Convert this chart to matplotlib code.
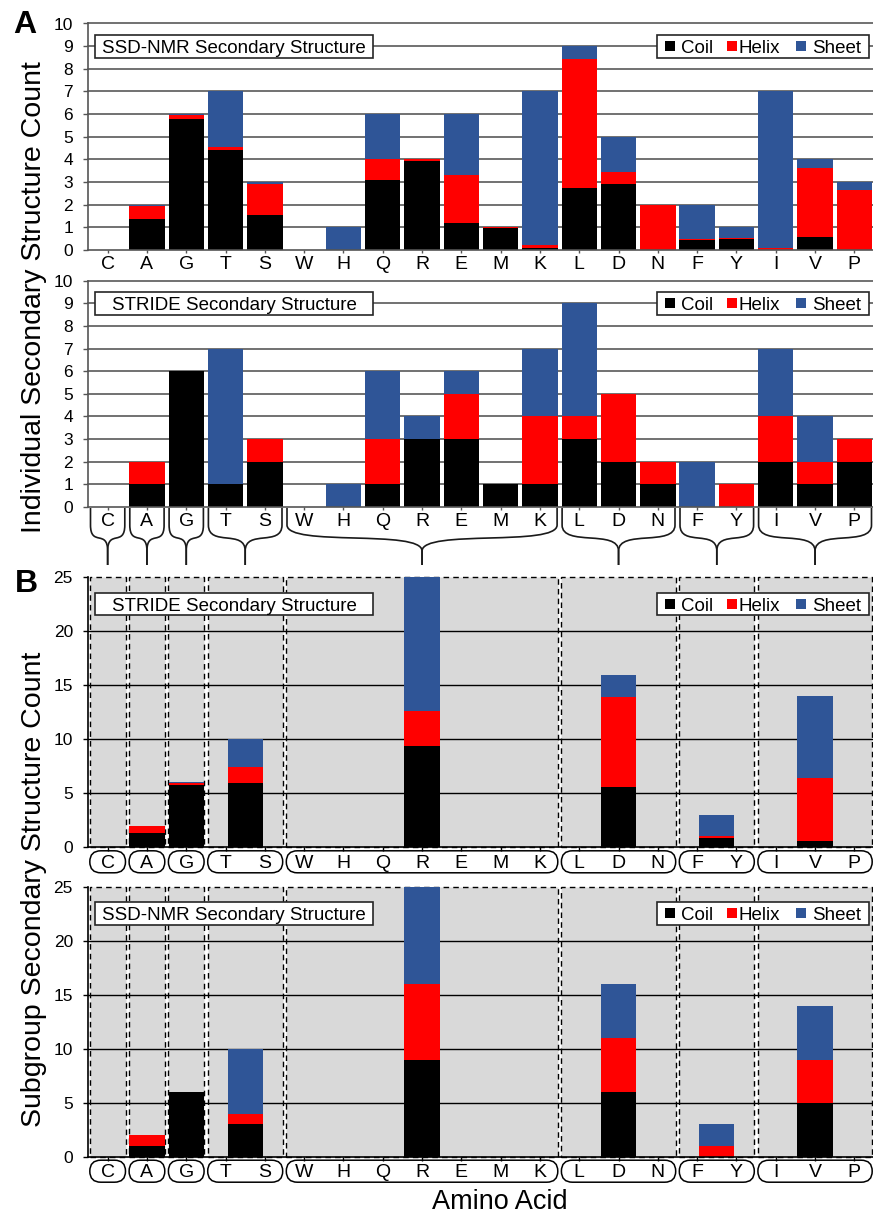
import numpy as np
import matplotlib
matplotlib.use("Agg")
import matplotlib.pyplot as plt
from matplotlib.patches import Rectangle, FancyBboxPatch, PathPatch
from matplotlib.path import Path
from matplotlib.transforms import IdentityTransform

plt.rcParams['font.family'] = ['Liberation Sans', 'DejaVu Sans']

# ---------------------------------------------------------------- data
residues = ["C", "A", "G", "T", "S", "W", "H", "Q", "R", "E",
            "M", "K", "L", "D", "N", "F", "Y", "I", "V", "P"]

# individual residue counts, SSD-NMR assignment
ssd_coil = [0, 1.37, 5.80, 4.40, 1.55, 0, 0, 3.08, 3.95, 1.20,
            0.95, 0.10, 2.72, 2.90, 0, 0.42, 0.50, 0, 0.56, 0]
ssd_helix = [0, 0.58, 0.17, 0.15, 1.35, 0, 0, 0.92, 0.05, 2.10,
             0.05, 0.12, 5.73, 0.55, 2.00, 0.06, 0.05, 0.10, 3.08, 2.65]
ssd_sheet = [0, 0.05, 0.03, 2.45, 0.10, 0, 1.00, 2.00, 0, 2.70,
             0, 6.78, 0.55, 1.55, 0, 1.52, 0.45, 6.90, 0.36, 0.35]

# individual residue counts, STRIDE assignment
stride_coil = [0, 1, 6, 1, 2, 0, 0, 1, 3, 3, 1, 1, 3, 2, 1, 0, 0, 2, 1, 2]
stride_helix = [0, 1, 0, 0, 1, 0, 0, 2, 0, 2, 0, 3, 1, 3, 1, 0, 1, 2, 1, 1]
stride_sheet = [0, 0, 0, 6, 0, 0, 1, 3, 1, 1, 0, 3, 5, 0, 0, 2, 0, 3, 2, 0]

# residue subgroups: C | A | G | T S | W H Q R E M K | L D N | F Y | I V P
group_edges = [-0.5, 0.5, 1.5, 2.5, 4.5, 11.5, 14.5, 16.5, 19.5]
group_pos = [0, 1, 2, 3.5, 8, 13, 15.5, 18]

# subgroup counts, panel B upper chart
subA_coil = [0, 1.35, 5.80, 5.95, 9.40, 5.60, 0.90, 0.56]
subA_helix = [0, 0.60, 0.17, 1.50, 3.20, 8.30, 0.10, 5.84]
subA_sheet = [0, 0.05, 0.03, 2.55, 12.40, 2.10, 2.00, 7.60]

# subgroup counts, panel B lower chart
subB_coil = [0, 1, 6, 3, 9, 6, 0, 5]
subB_helix = [0, 1, 0, 1, 7, 5, 1, 4]
subB_sheet = [0, 0, 0, 6, 9, 5, 2, 5]

COIL, HELIX, SHEET = "black", "#FF0000", "#2F5597"
GRAY_BG = "#D9D9D9"

# ---------------------------------------------------------------- figure
W, H = 873, 1215
fig = plt.figure(figsize=(W / 100, H / 100), dpi=100)
PIX = IdentityTransform()


def make_axes(top, bottom):
    return fig.add_axes([88 / W, 1 - bottom / H, 786 / W, (bottom - top) / H])


def stack(ax, x, coil, helix, sheet):
    coil = np.asarray(coil, float)
    helix = np.asarray(helix, float)
    sheet = np.asarray(sheet, float)
    ax.bar(x, coil, 0.9, color=COIL, zorder=3, linewidth=0)
    ax.bar(x, helix, 0.9, bottom=coil, color=HELIX, zorder=3, linewidth=0)
    ax.bar(x, sheet, 0.9, bottom=coil + helix, color=SHEET, zorder=3,
           linewidth=0)


def style_axes(ax, ymax, ystep, spine_color, xtick_len, xpad):
    ax.set_xlim(-0.5, 19.5)
    ax.set_ylim(0, ymax)
    ax.set_yticks(np.arange(0, ymax + 1, ystep))
    ax.set_xticks(np.arange(len(residues)))
    ax.set_xticklabels(residues)
    for s in ("top", "right"):
        ax.spines[s].set_visible(False)
    for s in ("left", "bottom"):
        ax.spines[s].set_color(spine_color)
        ax.spines[s].set_linewidth(1.2)
        ax.spines[s].set_zorder(4)
    ax.tick_params(axis="y", length=3.6, width=1, color=spine_color,
                   pad=7.2, labelsize=12.5)
    ax.tick_params(axis="x", length=xtick_len, width=1, color=spine_color,
                   pad=xpad, labelsize=14)


def draw_key(ax, title, offset):
    top = ax.bbox.y1 - offset
    h = 22.5
    mid = top - h / 2
    base = mid - 6.8
    ax.add_artist(Rectangle((95, top - h), 278, h, transform=PIX,
                            fc="white", ec="#262626", lw=1.2, zorder=6,
                            clip_on=False))
    ax.text(234, base, title, transform=PIX, ha="center", va="baseline",
            fontsize=13.5, zorder=7)
    ax.add_artist(Rectangle((657, top - h), 212, h, transform=PIX,
                            fc="white", ec="#262626", lw=1.2, zorder=6,
                            clip_on=False))
    for label, color, sq_x, tx_x in [("Coil", COIL, 665, 681),
                                     ("Helix", HELIX, 727, 739),
                                     ("Sheet", SHEET, 796, 812)]:
        ax.add_artist(Rectangle((sq_x, mid - 5), 10, 10, transform=PIX,
                                fc=color, ec="none", zorder=7,
                                clip_on=False))
        ax.text(tx_x, base, label, transform=PIX, ha="left", va="baseline",
                fontsize=13.5, zorder=7)


def individual_panel(ax, coil, helix, sheet, title, xpad):
    stack(ax, np.arange(len(residues)), coil, helix, sheet)
    style_axes(ax, 10, 1, "#555555", 2.2, xpad)
    for v in range(1, 11):
        ax.axhline(v, color="#4a4a4a", lw=1.1, zorder=1, clip_on=False)
    draw_key(ax, title, 11.5)


def subgroup_panel(ax, coil, helix, sheet, title):
    for lo, hi in zip(group_edges[:-1], group_edges[1:]):
        ax.add_patch(Rectangle((lo + 0.045, 0), hi - lo - 0.09, 25,
                               fc=GRAY_BG, ec="black", lw=1,
                               ls=(0, (4, 3)), zorder=0.5, clip_on=False))
    stack(ax, group_pos, coil, helix, sheet)
    style_axes(ax, 25, 5, "black", 2.9, 2.7)
    for v in range(5, 25, 5):
        ax.axhline(v, color="black", lw=1, zorder=2, clip_on=False)
    # rounded label groups under the axis
    y_top = ax.bbox.y0 - 3.5
    for lo, hi in zip(group_edges[:-1], group_edges[1:]):
        x0 = ax.transData.transform((lo, 0))[0] + 1.8
        x1 = ax.transData.transform((hi, 0))[0] - 1.8
        ax.add_artist(FancyBboxPatch((x0, y_top - 22), x1 - x0, 22,
                                     boxstyle="round,pad=0,rounding_size=11",
                                     transform=PIX, fc="none", ec="black",
                                     lw=1.1, clip_on=False))
    draw_key(ax, title, 15.5)


def brace(ax, lo, hi):
    x0 = ax.transData.transform((lo, 0))[0] + 2.5
    x1 = ax.transData.transform((hi, 0))[0] - 2.5
    xc = ax.transData.transform(((lo + hi) / 2, 0))[0]
    b = ax.bbox.y0
    yt, y1, y2, ye = b - 1, b - 18, b - 44, b - 58
    for xe in (x0, x1):
        verts = [(xe, yt), (xe, y1), (xe, y1 - 0.85 * (y1 - y2)),
                 (xc, y2 + 0.85 * (y1 - y2)), (xc, y2), (xc, ye)]
        codes = [Path.MOVETO, Path.LINETO, Path.CURVE4, Path.CURVE4,
                 Path.CURVE4, Path.LINETO]
        ax.add_artist(PathPatch(Path(verts, codes), transform=PIX,
                                fc="none", ec="#1a1a1a", lw=1.2,
                                clip_on=False))


axA1 = make_axes(23.5, 250)
axA2 = make_axes(280.7, 507)
axB1 = make_axes(577.3, 847.3)
axB2 = make_axes(886.7, 1156.7)

individual_panel(axA1, ssd_coil, ssd_helix, ssd_sheet,
                 "SSD-NMR Secondary Structure", 2.0)
individual_panel(axA2, stride_coil, stride_helix, stride_sheet,
                 "STRIDE Secondary Structure", 2.4)
for lo, hi in zip(group_edges[:-1], group_edges[1:]):
    brace(axA2, lo, hi)

subgroup_panel(axB1, subA_coil, subA_helix, subA_sheet,
               "STRIDE Secondary Structure")
subgroup_panel(axB2, subB_coil, subB_helix, subB_sheet,
               "SSD-NMR Secondary Structure")

fig.text(34 / W, 1 - 297 / H, "Individual Secondary Structure Count",
         rotation=90, ha="center", va="center", fontsize=20.5)
fig.text(34 / W, 1 - 889 / H, "Subgroup Secondary Structure Count",
         rotation=90, ha="center", va="center", fontsize=20.5)
fig.text(500 / W, 1 - 1202 / H, "Amino Acid", ha="center", va="center",
         fontsize=19.5)
fig.text(13 / W, 1 - 33 / H, "A", ha="left", va="baseline", fontsize=23,
         fontweight="bold")
fig.text(15 / W, 1 - 592 / H, "B", ha="left", va="baseline", fontsize=23,
         fontweight="bold")

fig.savefig("out.png", dpi=100)
